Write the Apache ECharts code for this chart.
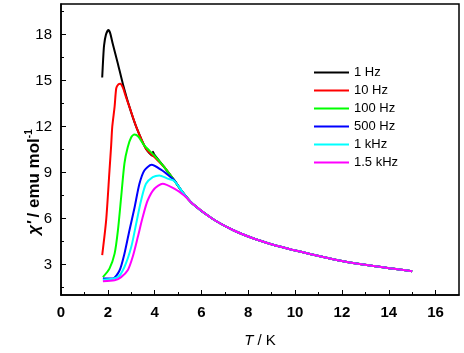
<!DOCTYPE html>
<html>
<head>
<meta charset="utf-8">
<script src="https://cdn.jsdelivr.net/npm/echarts@6/dist/echarts.min.js"></script>
<style>
  html, body { margin: 0; padding: 0; background: #fff; }
  #chart { width: 464px; height: 353px; }
</style>
</head>
<body>
<div id="chart"></div>
<script>
// 各频率下的低温段 [T, chi']，高温段共用 tail
const hz1 = [[1.76, 15.2], [1.8, 16.4], [1.84, 17.3], [1.92, 18.0], [2.03, 18.3], [2.1, 18.1], [2.21, 17.4],
  [2.43, 16.1], [2.64, 14.8], [2.92, 13.3], [3.21, 12.0], [3.63, 10.55], [3.9, 10.1], [3.93, 10.35], [3.97, 10.2]]
const hz10 = [[1.76, 3.6], [1.93, 5.9], [2.07, 9.1], [2.14, 10.7], [2.19, 12.0], [2.29, 13.3], [2.36, 14.5],
  [2.45, 14.75], [2.53, 14.8], [2.64, 14.55], [2.78, 13.9], [2.92, 13.3], [3.21, 12.0], [3.63, 10.55], [3.99, 10.0]]
const hz100 = [[1.79, 2.17], [2.07, 2.72], [2.29, 3.7], [2.43, 5.2], [2.57, 7.4], [2.71, 9.6], [2.85, 10.65],
  [3.0, 11.3], [3.14, 11.48], [3.3, 11.35], [3.56, 10.76], [3.99, 10.1]]
const hz500 = [[1.79, 2.07], [2.21, 2.07], [2.5, 2.6], [2.71, 3.7], [2.92, 5.2], [3.14, 6.7], [3.35, 8.26],
  [3.56, 9.13], [3.87, 9.5], [4.27, 9.18], [4.6, 8.8]]
const khz1 = [[1.79, 2.0], [2.43, 2.17], [2.71, 2.83], [3.0, 4.13], [3.21, 5.65], [3.42, 7.17], [3.63, 8.26],
  [3.92, 8.7], [4.2, 8.81], [4.55, 8.6], [4.84, 8.45]]
const khz15 = [[1.79, 1.89], [2.29, 1.96], [2.57, 2.17], [2.85, 2.61], [3.06, 3.48], [3.28, 4.78], [3.49, 6.09],
  [3.7, 7.17], [3.99, 7.94], [4.34, 8.26], [4.84, 7.94], [5.26, 7.5]]
const tail = [[4.41, 9.35], [4.84, 8.48], [5.19, 7.72], [5.62, 6.96], [6.47, 5.98], [7.32, 5.26], [8.17, 4.72],
  [9.02, 4.30], [9.87, 3.96], [10.72, 3.65], [12.0, 3.22], [13.42, 2.87], [15.0, 2.55]]

const names = ['1 Hz', '10 Hz', '100 Hz', '500 Hz', '1 kHz', '1.5 kHz']
const colors = ['#000000', '#ff0000', '#00ff00', '#0000ff', '#00ffff', '#ff00ff']
const lows = [hz1, hz10, hz100, hz500, khz1, khz15]

const xMajor = [0, 2, 4, 6, 8, 10, 12, 14, 16]
const xMinor = [1, 3, 5, 7, 9, 11, 13, 15]
const yMajor = [3, 6, 9, 12, 15, 18]
const yMinor = [1.5, 4.5, 7.5, 10.5, 13.5, 16.5, 19.5]

const chart = echarts.init(document.getElementById('chart'))

// 拼接低温段和共用高温段
const seriesData = lows.map((low, i) => {
  const lastT = low[low.length - 1][0]
  return {
    name: names[i],
    type: 'line',
    xAxisIndex: 0,
    yAxisIndex: 0,
    data: low.concat(tail.filter((p) => p[0] > lastT)),
    smooth: 0.25,
    symbol: 'none',
    lineStyle: { color: colors[i], width: 2 },
    itemStyle: { color: colors[i] },
    z: 2 + i,
  }
})

const axisFont = { fontFamily: 'Liberation Sans, Arial', color: '#000' }

chart.setOption({
  animation: false,
  grid: { left: 61, right: 5, top: 4, bottom: 58, show: true, borderColor: '#000', borderWidth: 1.5 },
  legend: {
    orient: 'vertical',
    left: 309,
    top: 61,
    itemWidth: 35,
    itemHeight: 12,
    itemGap: 5,
    icon: 'path://M0,5 L36,5 L36,7 L0,7 Z',
    textStyle: { ...axisFont, fontSize: 13 },
    data: names,
  },
  xAxis: [
    {
      type: 'value', min: 0, max: 17,
      axisLine: { show: true, lineStyle: { color: '#000', width: 1.5 } },
      axisTick: { inside: true, length: 5, customValues: xMajor, lineStyle: { color: '#000' } },
      axisLabel: { customValues: xMajor, ...axisFont, fontSize: 15, fontWeight: 'bold', margin: 10 },
      splitLine: { show: false },
      name: '{i|T} / K',
      nameLocation: 'middle',
      nameGap: 38,
      nameTextStyle: { ...axisFont, fontSize: 15, rich: { i: { ...axisFont, fontSize: 15, fontStyle: 'italic' } } },
    },
    {
      type: 'value', min: 0, max: 17, position: 'bottom',
      axisLine: { show: false },
      axisTick: { inside: true, length: 3, customValues: xMinor, lineStyle: { color: '#000' } },
      axisLabel: { show: false },
      splitLine: { show: false },
    },
  ],
  yAxis: [
    {
      type: 'value', min: 1, max: 20,
      axisLine: { show: true, lineStyle: { color: '#000', width: 1.5 } },
      axisTick: { inside: true, length: 5, customValues: yMajor, lineStyle: { color: '#000' } },
      axisLabel: { customValues: yMajor, ...axisFont, fontSize: 15, margin: 9 },
      splitLine: { show: false },
    },
    {
      type: 'value', min: 1, max: 20, position: 'left',
      axisLine: { show: false },
      axisTick: { inside: true, length: 3, customValues: yMinor, lineStyle: { color: '#000' } },
      axisLabel: { show: false },
      splitLine: { show: false },
    },
  ],
  graphic: [
    {
      type: 'text',
      x: 34,
      y: 182,
      rotation: Math.PI / 2,
      style: {
        text: "{a|χ'} {b|/ emu mol}{s|-1}",
        align: 'center',
        verticalAlign: 'middle',
        rich: {
          a: { fontFamily: 'Liberation Sans, Arial', fontSize: 17, fontWeight: 'bold', fontStyle: 'italic', fill: '#000' },
          b: { fontFamily: 'Liberation Sans, Arial', fontSize: 17, fontWeight: 'bold', fill: '#000' },
          s: { fontFamily: 'Liberation Sans, Arial', fontSize: 10, fontWeight: 'bold', fill: '#000', padding: [0, 0, 9, 0] },
        },
      },
    },
  ],
  series: seriesData,
})
</script>
</body>
</html>
